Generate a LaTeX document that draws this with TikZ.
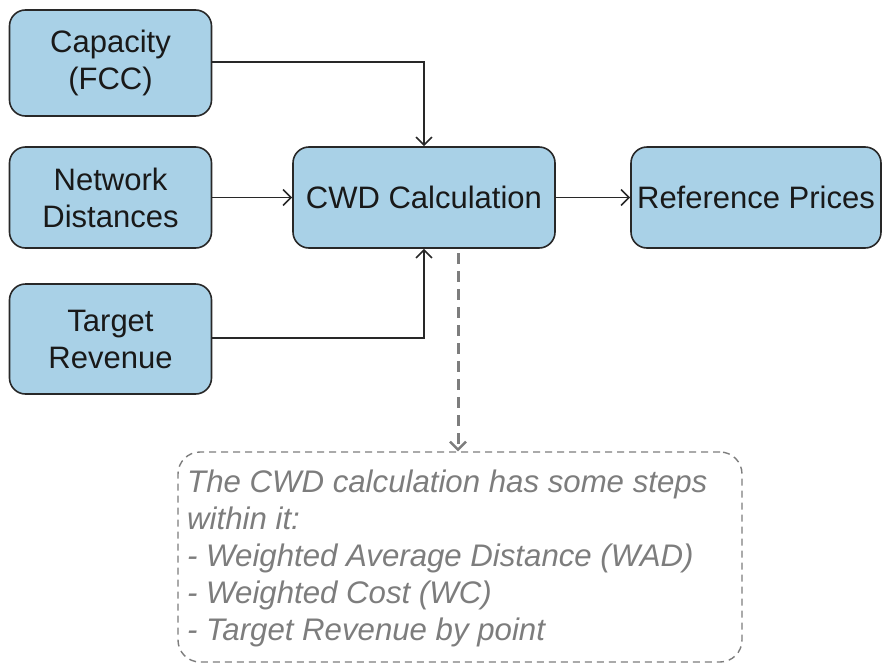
\documentclass[tikz,border=0pt]{standalone}
\usepackage{fontspec}
\setmainfont{Liberation Sans}
\usetikzlibrary{arrows.meta}
\definecolor{boxfill}{RGB}{169,209,231}
\definecolor{boxline}{RGB}{40,40,40}
\definecolor{notegray}{RGB}{125,125,125}
\begin{document}
\begin{tikzpicture}[x=1pt,y=-1pt,
  blockbox/.style={draw=boxline, line width=1.6pt, fill=boxfill, rounded corners=16pt,
    align=center, inner sep=0pt, font=\fontsize{31}{37}\selectfont, text=black!90},
  conn/.style={draw=boxline, line width=1.6pt, -{Straight Barb[length=8pt,width=16pt,line width=1.6pt]}},
  noteconn/.style={draw=notegray, line width=3pt, dash pattern=on 11pt off 7pt,
    -{Straight Barb[length=8pt,width=16pt,line width=2.4pt]}},
  notebox/.style={draw=notegray, line width=1.4pt, dash pattern=on 7pt off 5pt, rounded corners=22pt,
    inner sep=0pt}
]
\useasboundingbox (0,0) rectangle (883,664);

\node[blockbox, minimum width=202pt, minimum height=106pt] (cap) at (110.5,63) {Capacity\\(FCC)};
\node[blockbox, minimum width=202pt, minimum height=101pt] (net) at (110.5,197.5) {Network\\Distances};
\node[blockbox, minimum width=202pt, minimum height=110pt] (tgt) at (110.5,339) {Target\\Revenue};
\node[blockbox, minimum width=262pt, minimum height=101pt] (cwd) at (424,197.5) {CWD Calculation};
\node[blockbox, minimum width=250pt, minimum height=101pt] (ref) at (756,197.5) {Reference Prices};

\node[notebox, minimum width=564pt, minimum height=210pt] (note) at (460,557) {};
\node[anchor=north west, align=left, inner sep=0pt, text=notegray,
  font=\fontsize{31.2}{36.8}\selectfont\itshape] (notetext) at (187,470)
  {The CWD calculation has some steps\\within it:\\- Weighted Average Distance (WAD)\\- Weighted Cost (WC)\\- Target Revenue by point};

\coordinate (capturn) at (424,62);
\coordinate (tgtturn) at (424,338);
\draw[conn] (cap.east |- capturn) -- (capturn) -- (cwd.north);
\draw[conn] (net.east) -- (cwd.west);
\draw[conn] (tgt.east |- tgtturn) -- (tgtturn) -- (cwd.south);
\draw[conn] (cwd.east) -- (ref.west);
\coordinate (dstart) at (458,253);
\draw[noteconn] (dstart) -- (dstart |- note.north);
\end{tikzpicture}
\end{document}
